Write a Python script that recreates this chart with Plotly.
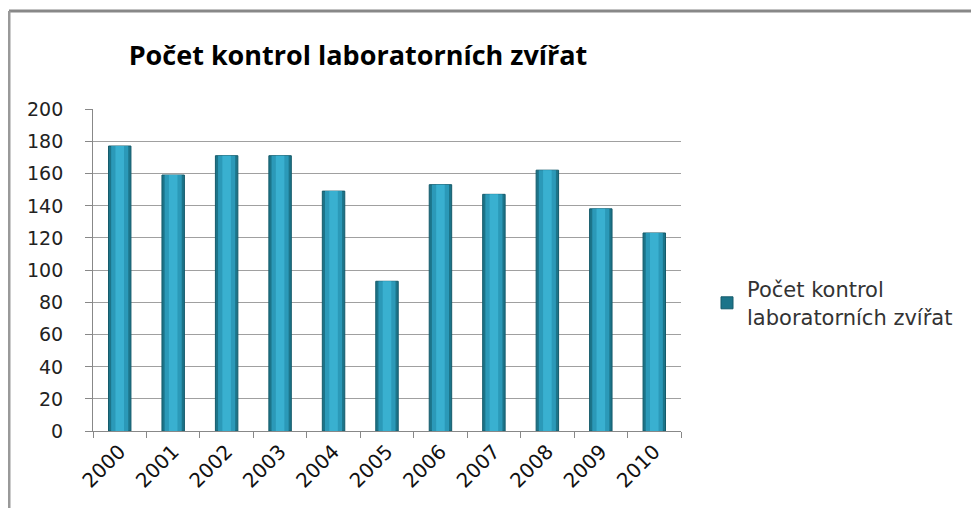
import plotly.graph_objects as go

years = ["2000", "2001", "2002", "2003", "2004", "2005", "2006", "2007", "2008", "2009", "2010"]
kontroly = [177, 159, 171, 171, 149, 93, 153, 147, 162, 138, 123]
y_ticks = [0, 20, 40, 60, 80, 100, 120, 140, 160, 180, 200]
series_name = "Počet kontrol<br>laboratorních zvířat"
title_text = "Počet kontrol laboratorních zvířat"

# the page puts the figure 8px in from the corner, so work in page pixels
OFF = 8
W, H = 979 - OFF, 508 - OFF
px0, px1, py0, py1 = 93, 681, 109, 431   # plot area on the page
L, R, T, B = px0 - OFF, 979 - px1, py0 - OFF, 508 - py1
pw, ph = px1 - px0, py1 - py0


def xp(x):
    return (x - px0) / pw


def yp(y):
    return (py1 - y) / ph


fig = go.Figure()
# dark edges
fig.add_trace(go.Bar(
    x=years, y=kontroly, name=series_name, width=0.42,
    marker=dict(color="#1C7489", line=dict(color="#155B6B", width=1)),
))
# mid tone
fig.add_trace(go.Bar(
    x=years, y=kontroly, width=0.32, showlegend=False, hoverinfo="skip",
    marker=dict(color="#2B99B8", line=dict(width=0)),
))
# bright centre
fig.add_trace(go.Bar(
    x=years, y=kontroly, width=0.16, showlegend=False, hoverinfo="skip",
    marker=dict(color="#39B0D0", line=dict(width=0)),
))

fig.update_layout(
    width=W, height=H,
    margin=dict(l=L, r=R, t=T, b=B, autoexpand=False),
    paper_bgcolor="white", plot_bgcolor="white",
    barmode="overlay",
    font=dict(family="DejaVu Sans, sans-serif", size=18, color="#222"),
    title=dict(text="<b>" + title_text + "</b>", x=xp(358), xref="paper",
               xanchor="center", y=1 - (56 - OFF) / H, yanchor="middle",
               font=dict(size=27, color="#000", family="Open Sans, sans-serif")),
    xaxis=dict(type="category", tickangle=-45, tickson="boundaries", ticks="outside",
               ticklen=6, tickcolor="#888", showline=True, linecolor="#888",
               showgrid=False, automargin=False,
               tickfont=dict(size=20, color="#111")),
    yaxis=dict(range=[0, 200], tickvals=y_ticks, showticklabels=False, showgrid=True,
               gridcolor="#a0a0a0", gridwidth=1, showline=True, linecolor="#888",
               ticks="outside", ticklen=7, tickcolor="#888", zeroline=False,
               automargin=False),
    legend=dict(x=xp(707), y=yp(303), xanchor="left", yanchor="middle",
                font=dict(size=21, color="#333"), bgcolor="rgba(0,0,0,0)",
                itemwidth=30, tracegroupgap=0),
    showlegend=True,
)

# y labels sit further from the axis than plotly puts them
for v in y_ticks:
    fig.add_annotation(x=xp(65), xref="paper", y=v, yref="y", text=str(v),
                       showarrow=False, xanchor="right", yanchor="middle",
                       font=dict(size=19, color="#222"))

# chart frame (top and left edges of the original chart border)
fx0 = xp(9)
fy0 = yp(11)
fig.add_shape(type="line", xref="paper", yref="paper", x0=fx0, x1=xp(990),
              y0=fy0, y1=fy0, line=dict(color="#888", width=3))
fig.add_shape(type="line", xref="paper", yref="paper", x0=fx0, x1=fx0,
              y0=fy0, y1=yp(520), line=dict(color="#999", width=3))

fig.write_html("out.html")
